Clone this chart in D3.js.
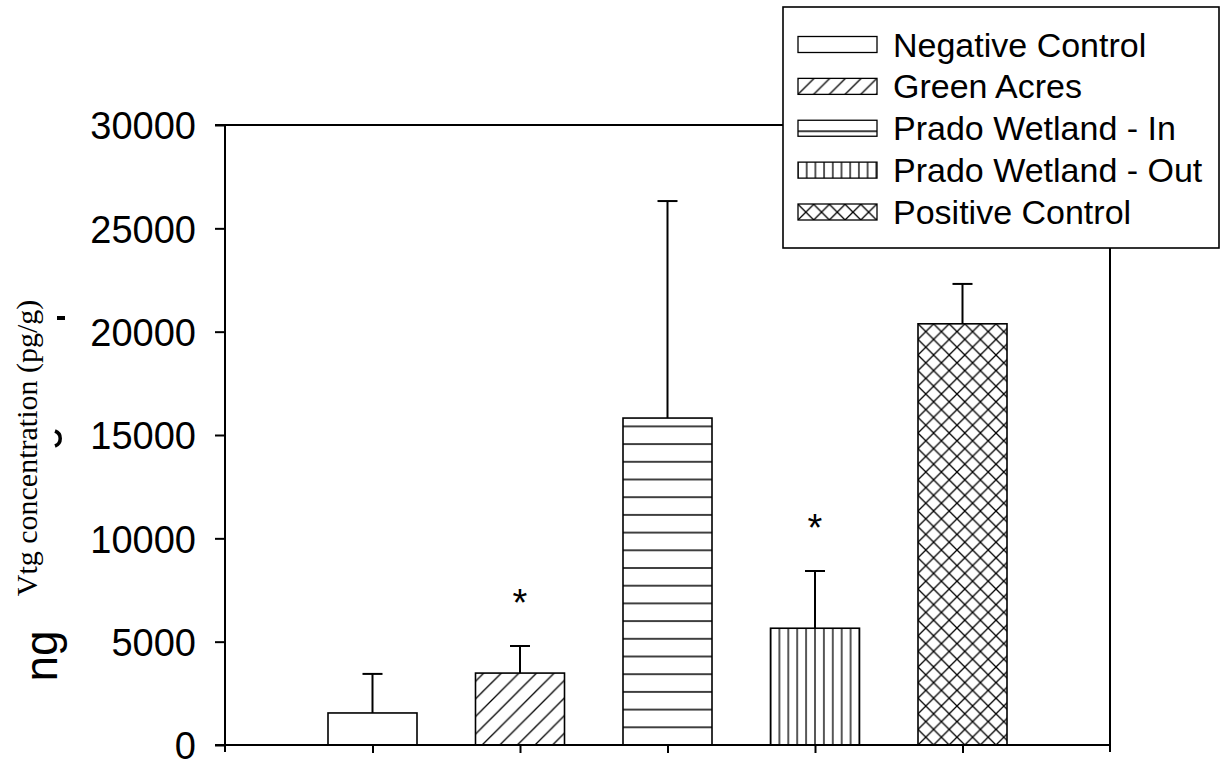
<!DOCTYPE html>
<html>
<head>
<meta charset="utf-8">
<script src="https://cdn.jsdelivr.net/npm/d3@7"></script>
<style>
  body { margin: 0; background: #fff; }
  svg { display: block; }
</style>
</head>
<body>
<svg id="chart" width="1220" height="761"></svg>
<script>
// Vitellogenin (Vtg) concentration by site, mean with upper error bar
const groups = ["Negative Control", "Green Acres", "Prado Wetland - In", "Prado Wetland - Out", "Positive Control"];
const means = [1550, 3480, 15820, 5650, 20380];
const errors = [1890, 1310, 10500, 2770, 1930];
const significant = [false, true, false, true, false];
const hatches = ["none", "diagonal", "horizontal", "vertical", "crosshatch"];
const yTicks = [0, 5000, 10000, 15000, 20000, 25000, 30000];
const yTitle = "Vtg concentration (pg/g)";
const yTitleRemnant = "ng";

const svg = d3.select("#chart");
const defs = svg.append("defs");

const plot = { left: 225, right: 1110, top: 125, bottom: 745 };

const x = d3.scalePoint().domain(groups).range([plot.left, plot.right]).padding(1);
const y = d3.scaleLinear().domain([0, 30000]).range([plot.bottom, plot.top]);
const barWidth = 89;

// Hatch fills; phase (ox, oy) sets where the lines fall in user space
function hatch(id, kind, period, ox, oy) {
  const p = defs.append("pattern")
    .attr("id", id)
    .attr("patternUnits", "userSpaceOnUse")
    .attr("x", ox).attr("y", oy)
    .attr("width", period).attr("height", period);
  p.append("rect").attr("width", period).attr("height", period).attr("fill", "#fff");
  const s = period;
  let d = "";
  if (kind === "diagonal" || kind === "crosshatch") {
    d += `M0,${s}L${s},0M${-s / 4},${s / 4}L${s / 4},${-s / 4}M${3 * s / 4},${5 * s / 4}L${5 * s / 4},${3 * s / 4}`;
  }
  if (kind === "crosshatch") {
    d += `M0,0L${s},${s}M${-s / 4},${3 * s / 4}L${s / 4},${5 * s / 4}M${3 * s / 4},${-s / 4}L${5 * s / 4},${s / 4}`;
  }
  if (kind === "horizontal") d += `M0,0L${s},0M0,${s}L${s},${s}`;
  if (kind === "vertical") d += `M0,0L0,${s}M${s},0L${s},${s}`;
  p.append("path").attr("d", d).attr("stroke", "#000").attr("stroke-width", 1.3).attr("fill", "none");
  return `url(#${id})`;
}

const periods = { diagonal: 17.6, horizontal: 17.7, vertical: 8.9, crosshatch: 15.6 };

function barFill(i) {
  const kind = hatches[i];
  if (kind === "none") return "#fff";
  const left = x(groups[i]) - barWidth / 2;
  const ox = kind === "diagonal" ? left + 6.7 : left;
  return hatch("bar-hatch-" + i, kind, periods[kind], ox, plot.bottom);
}

// Frame
const frame = svg.append("g").attr("stroke", "#000").attr("stroke-width", 2);
frame.append("line").attr("x1", plot.left - 10).attr("x2", plot.right).attr("y1", plot.top).attr("y2", plot.top);
frame.append("line").attr("x1", plot.right).attr("x2", plot.right).attr("y1", plot.top).attr("y2", plot.bottom + 7);

// Y axis
const yAxis = svg.append("g")
  .attr("transform", `translate(${plot.left},0)`)
  .call(d3.axisLeft(y).tickValues(yTicks).tickFormat(d3.format("d")).tickSize(10).tickPadding(19).tickSizeOuter(0));
yAxis.select(".domain").remove();
yAxis.selectAll(".tick line").attr("stroke", "#000").attr("stroke-width", 2);
yAxis.selectAll(".tick text")
  .attr("font-family", "Arial, 'Liberation Sans', sans-serif")
  .attr("font-size", 38).attr("fill", "#000").attr("dy", "0.36em");
svg.append("line").attr("stroke", "#000").attr("stroke-width", 2)
  .attr("x1", plot.left).attr("x2", plot.left).attr("y1", plot.top).attr("y2", plot.bottom + 7);

// X axis (ticks only)
const xAxis = svg.append("g")
  .attr("transform", `translate(0,${plot.bottom})`)
  .call(d3.axisBottom(x).tickSize(8).tickFormat("").tickSizeOuter(0));
xAxis.select(".domain").remove();
xAxis.selectAll(".tick line").attr("stroke", "#000").attr("stroke-width", 2);

// Bars
svg.append("g").selectAll("rect")
  .data(groups)
  .join("rect")
  .attr("x", d => x(d) - barWidth / 2)
  .attr("width", barWidth)
  .attr("y", (d, i) => y(means[i]))
  .attr("height", (d, i) => y(0) - y(means[i]))
  .attr("fill", (d, i) => barFill(i))
  .attr("stroke", "#000")
  .attr("stroke-width", 1.6);

// Upper error bars
const err = svg.append("g").attr("stroke", "#000").attr("stroke-width", 2);
groups.forEach((g, i) => {
  const cx = x(g), top = y(means[i] + errors[i]);
  err.append("line").attr("x1", cx).attr("x2", cx).attr("y1", y(means[i])).attr("y2", top);
  err.append("line").attr("x1", cx - 10).attr("x2", cx + 10).attr("y1", top).attr("y2", top);
});

// Baseline drawn over the bar edges
svg.append("line").attr("stroke", "#000").attr("stroke-width", 2)
  .attr("x1", plot.left - 10).attr("x2", plot.right).attr("y1", plot.bottom).attr("y2", plot.bottom);

// Significance markers
svg.append("g").selectAll("text")
  .data(groups.filter((g, i) => significant[i]))
  .join("text")
  .attr("x", d => x(d))
  .attr("y", d => { const i = groups.indexOf(d); return y(means[i] + errors[i]) - 52 + 22; })
  .attr("text-anchor", "middle")
  .attr("font-family", "Arial, 'Liberation Sans', sans-serif")
  .attr("font-size", 38)
  .text("*");

// Y axis title
svg.append("text")
  .attr("transform", "translate(37,448) rotate(-90)")
  .attr("text-anchor", "middle")
  .attr("font-family", "'Times New Roman', 'Liberation Serif', serif")
  .attr("font-size", 30)
  .attr("fill", "#000")
  .text(yTitle);

svg.append("text")
  .attr("transform", "translate(57,656) rotate(-90)")
  .attr("text-anchor", "middle")
  .attr("font-family", "Arial, 'Liberation Sans', sans-serif")
  .attr("font-size", 46)
  .attr("fill", "#000")
  .text(yTitleRemnant);

// small leftover strokes beside the title
svg.append("rect").attr("x", 57).attr("y", 316).attr("width", 8).attr("height", 4).attr("fill", "#000");
svg.append("path").attr("d", "M55,431 A8,8 0 0 1 55,446")
  .attr("fill", "none").attr("stroke", "#000").attr("stroke-width", 3.5);

// Legend
const legend = svg.append("g");
legend.append("rect")
  .attr("x", 783).attr("y", 7).attr("width", 436).attr("height", 241)
  .attr("fill", "#fff").attr("stroke", "#000").attr("stroke-width", 1.6);

const rowY = d3.scalePoint().domain(groups).range([44.5, 212]);
groups.forEach((g, i) => {
  const cy = rowY(g);
  const kind = hatches[i];
  let fill = "#fff";
  if (kind !== "none") {
    const ph = {
      diagonal: [798, cy + 8],
      horizontal: [798, cy + 3],
      vertical: [798, cy + 8],
      crosshatch: [798, cy + 8]
    }[kind];
    const per = { diagonal: 15.7, horizontal: 40, vertical: 8.7, crosshatch: 15.7 }[kind];
    fill = hatch("legend-hatch-" + i, kind, per, ph[0], ph[1]);
  }
  legend.append("rect")
    .attr("x", 798).attr("y", cy - 8).attr("width", 79).attr("height", 16)
    .attr("fill", fill).attr("stroke", "#000").attr("stroke-width", 1.3);
  legend.append("text")
    .attr("x", 893).attr("y", cy + 12)
    .attr("font-family", "Arial, 'Liberation Sans', sans-serif")
    .attr("font-size", 34)
    .attr("fill", "#000")
    .text(g);
});
</script>
</body>
</html>
